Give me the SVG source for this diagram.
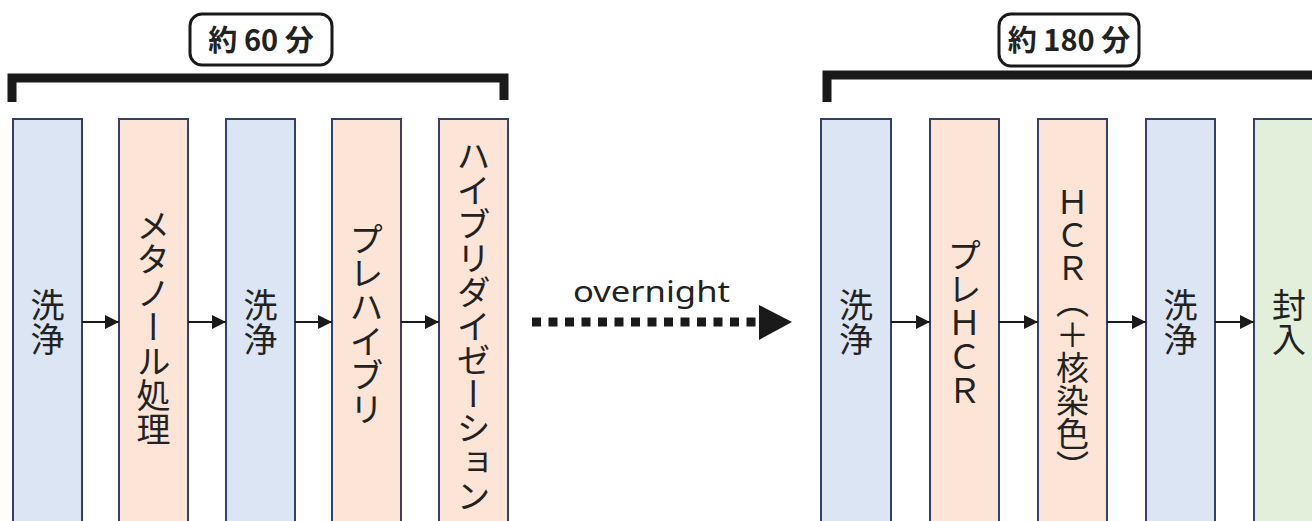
<svg xmlns="http://www.w3.org/2000/svg" width="1312" height="521" viewBox="0 0 1312 521">
<defs>
<marker id="ah" viewBox="0 0 10 10" refX="10" refY="5" markerWidth="14" markerHeight="14" orient="auto" markerUnits="userSpaceOnUse">
<path d="M0,0 L10,5 L0,10 z" fill="#1a1a1a"/>
</marker>
<style>
.blue{fill:#dbe5f3;stroke:#33406a;stroke-width:2}
.orange{fill:#fce4d6;stroke:#33406a;stroke-width:2}
.green{fill:#e2efda;stroke:#33406a;stroke-width:2}
.vt{font-family:"Noto Sans CJK JP","Noto Sans",sans-serif;font-size:34px;fill:#222;writing-mode:vertical-rl;text-anchor:middle}
.lbl{font-family:"Noto Sans CJK JP","Noto Sans",sans-serif;font-size:29px;font-weight:bold;fill:#222;text-anchor:middle}
.lblbox{fill:#fff;stroke:#1a1a1a;stroke-width:3}
.brk{fill:none;stroke:#1a1a1a;stroke-width:9}
.conn{stroke:#1a1a1a;stroke-width:2;fill:none;marker-end:url(#ah)}
</style>
</defs>
<rect width="1312" height="521" fill="#fff"/>

<g id="bracket-left">
<path class="brk" d="M12,102 V78 H504 V100"/>
<rect class="lblbox" x="190" y="14" width="142" height="51" rx="12"/>
<text class="lbl" x="261" y="51">約 60 分</text>
</g>
<g id="bracket-right">
<path class="brk" d="M827,102 V75 H1320"/>
<rect class="lblbox" x="999" y="14" width="140" height="52" rx="12"/>
<text class="lbl" x="1069" y="51">約 180 分</text>
</g>

<g id="n1"><rect class="blue" x="13" y="119" width="69" height="420"/><text class="vt" x="47.5" y="322">洗浄</text></g>
<g id="n2"><rect class="orange" x="119" y="119" width="69" height="420"/><text class="vt" x="153.5" y="327">メタノール処理</text></g>
<g id="n3"><rect class="blue" x="226" y="119" width="69" height="420"/><text class="vt" x="260.5" y="322">洗浄</text></g>
<g id="n4"><rect class="orange" x="332" y="119" width="69" height="420"/><text class="vt" x="366.5" y="324">プレハイブリ</text></g>
<g id="n5"><rect class="orange" x="439" y="119" width="69" height="420"/><text class="vt" x="473.5" y="326">ハイブリダイゼーション</text></g>

<g id="n6"><rect class="blue" x="821" y="119" width="70" height="420"/><text class="vt" x="856" y="322">洗浄</text></g>
<g id="n7"><rect class="orange" x="930" y="119" width="69" height="420"/><text class="vt" x="964.5" y="323">プレＨＣＲ</text></g>
<g id="n8"><rect class="orange" x="1038" y="119" width="69" height="420"/><text class="vt" x="1072.5" y="334" style="font-size:33px">ＨＣＲ（＋核染色）</text></g>
<g id="n9"><rect class="blue" x="1146" y="119" width="69" height="420"/><text class="vt" x="1180.5" y="322">洗浄</text></g>
<g id="n10"><rect class="green" x="1254" y="119" width="80" height="420"/><text class="vt" x="1289" y="322">封入</text></g>

<g id="connectors">
<line class="conn" x1="82" y1="322" x2="119" y2="322"/>
<line class="conn" x1="188" y1="322" x2="226" y2="322"/>
<line class="conn" x1="295" y1="322" x2="332" y2="322"/>
<line class="conn" x1="401" y1="322" x2="439" y2="322"/>
<line class="conn" x1="891" y1="322" x2="930" y2="322"/>
<line class="conn" x1="999" y1="322" x2="1038" y2="322"/>
<line class="conn" x1="1107" y1="322" x2="1146" y2="322"/>
<line class="conn" x1="1215" y1="322" x2="1254" y2="322"/>
<g id="overnight">
<line x1="532" y1="322" x2="757" y2="322" stroke="#1a1a1a" stroke-width="9" stroke-dasharray="9 7.5"/>
<path d="M759,305 L792,322 L759,340 z" fill="#1a1a1a"/>
<text x="573" y="302" font-family="'Noto Sans','Open Sans',sans-serif" font-size="29" fill="#222" textLength="157" lengthAdjust="spacingAndGlyphs">overnight</text>
</g>
</g>
</svg>
